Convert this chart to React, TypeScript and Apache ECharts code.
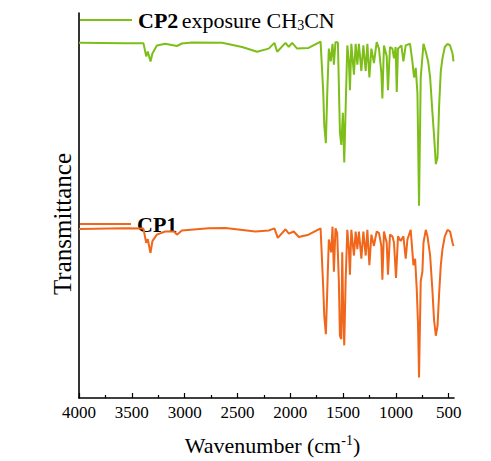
import React, { useEffect, useRef } from "react";
import * as echarts from "echarts";

// CP2 exposure CH3CN (offset spectrum, arbitrary transmittance units)
const cp2Wavenumbers = [4000, 3564, 3390, 3364, 3349, 3323, 3305, 3263, 3184, 3073, 3026, 2931, 2646, 2456, 2314, 2204, 2150, 2124, 2045, 2014, 1982, 1935, 1827, 1713, 1688, 1678, 1663, 1650, 1635, 1617, 1600, 1587, 1572, 1556, 1549, 1530, 1517, 1502, 1489, 1476, 1460, 1445, 1435, 1422, 1397, 1381, 1365, 1350, 1327, 1308, 1286, 1270, 1251, 1232, 1208, 1182, 1160, 1138, 1128, 1113, 1087, 1075, 1056, 1033, 1018, 1002, 992, 980, 948, 929, 907, 866, 844, 828, 812, 796, 781, 765, 739, 717, 695, 676, 654, 639, 622, 606, 591, 575, 559, 537, 511, 487, 464, 455];
const cp2Values = [369, 368.7, 368.7, 355, 360, 349.7, 358, 366.3, 368, 365.7, 368.3, 369.3, 369, 364.7, 359.7, 363, 369, 359.7, 369, 364.7, 369, 363, 363.7, 370.3, 318, 283, 264.7, 316.3, 363, 349.7, 368, 346.3, 369.7, 369.7, 369, 276.3, 263, 296.3, 244.7, 300, 366.3, 350, 319.7, 368, 336, 368, 346.3, 368, 339.7, 366.3, 339.7, 368, 333, 363, 348, 369.7, 363, 338, 311.3, 366.3, 355, 319.7, 364.7, 363, 353, 364.7, 318, 363, 366.3, 349.7, 366.3, 368, 349.7, 333, 343, 316.3, 199.7, 333, 368, 359.7, 349.7, 333, 296.3, 273, 243, 249.7, 303, 339.7, 353, 364.7, 368, 366.3, 358, 349.7];

// CP1
const cp1Wavenumbers = [4000, 3564, 3390, 3364, 3349, 3323, 3305, 3263, 3184, 3100, 3073, 3026, 2773, 2615, 2330, 2204, 2150, 2118, 2045, 2014, 1967, 1919, 1827, 1713, 1688, 1678, 1663, 1650, 1635, 1613, 1600, 1587, 1572, 1556, 1540, 1530, 1517, 1508, 1499, 1489, 1476, 1460, 1445, 1435, 1422, 1397, 1381, 1365, 1350, 1327, 1308, 1286, 1270, 1251, 1232, 1208, 1182, 1160, 1138, 1128, 1113, 1087, 1075, 1056, 1033, 1018, 999, 980, 955, 929, 907, 891, 860, 834, 818, 802, 790, 781, 765, 749, 739, 717, 701, 676, 654, 639, 622, 606, 591, 575, 559, 537, 511, 487, 464, 455];
const cp1Values = [175.7, 176.3, 176, 161.3, 165, 150.7, 163, 169.7, 173, 173, 169.7, 174, 176.3, 176.7, 173, 174, 176.3, 166.3, 175.3, 170.7, 173, 167.3, 169.7, 176.3, 114.7, 85, 66.3, 111.3, 164.7, 151.3, 178, 131.3, 176.3, 171.3, 121.3, 64.7, 61.3, 151.3, 91.3, 54.7, 121.3, 174.7, 154.7, 128, 174.7, 148, 173, 154.7, 173, 144.7, 173, 148, 174.7, 138, 169.7, 158, 173, 171.3, 158, 123, 173, 161.3, 128, 169.7, 168, 161.3, 124.7, 168, 163, 168, 144.7, 164.7, 174.7, 138, 144.7, 111.3, 74.7, 21.3, 121.3, 131.3, 161.3, 174.7, 168, 148, 111.3, 81.3, 64.7, 74.7, 108, 138, 154.7, 168, 174.7, 173, 161.3, 158];

const majorTicks = [4000, 3500, 3000, 2500, 2000, 1500, 1000, 500];
const minorTicks = [3750, 3250, 2750, 2250, 1750, 1250, 750];

const GREEN = "#7DBE18";
const ORANGE = "#F0661A";
const SERIF = '"Times New Roman", "Liberation Serif", serif';

export default function App() {
  const ref = useRef<HTMLDivElement>(null);
  useEffect(() => {
    if (!ref.current) return;
    const chart = echarts.init(ref.current, null, { renderer: "svg" });
    const cp2 = cp2Wavenumbers.map((w, i) => [w, cp2Values[i]]);
    const cp1 = cp1Wavenumbers.map((w, i) => [w, cp1Values[i]]);
    chart.setOption({
      animation: false,
      backgroundColor: "#ffffff",
      grid: { left: 79, right: 37, top: 13, bottom: 48, containLabel: false },
      xAxis: [
        {
          type: "value",
          min: 450,
          max: 4000,
          inverse: true,
          axisLine: { show: true, lineStyle: { color: "#000", width: 1.6 } },
          axisTick: { show: true, inside: true, length: 5, customValues: majorTicks, lineStyle: { color: "#000", width: 1.2 } },
          axisLabel: {
            show: true,
            customValues: majorTicks,
            margin: 6,
            fontFamily: SERIF,
            fontSize: 17,
            color: "#000",
            formatter: (v: number) => String(v),
          },
          splitLine: { show: false },
          name: "{a|Wavenumber (cm}{sup|-1}{a|)}",
          nameLocation: "middle",
          nameGap: 35,
          nameTextStyle: {
            padding: [0, 0, 0, 12],
            rich: {
              a: { fontFamily: SERIF, fontSize: 22, color: "#000" },
              sup: { fontFamily: SERIF, fontSize: 14, color: "#000", padding: [0, 0, 10, 0] },
            },
          },
        },
        {
          type: "value",
          min: 450,
          max: 4000,
          inverse: true,
          position: "bottom",
          axisLine: { show: false },
          axisTick: { show: true, inside: true, length: 3, customValues: minorTicks, lineStyle: { color: "#000", width: 1.2 } },
          axisLabel: { show: false },
          splitLine: { show: false },
        },
      ],
      yAxis: {
        type: "value",
        min: 0,
        max: 400,
        axisLine: { show: true, lineStyle: { color: "#000", width: 1.6 } },
        axisTick: { show: false },
        axisLabel: { show: false },
        splitLine: { show: false },
      },
      graphic: [
        {
          type: "text",
          x: 62,
          y: 224,
          rotation: Math.PI / 2,
          style: {
            text: "Transmittance",
            align: "center",
            verticalAlign: "middle",
            fontFamily: SERIF,
            fontSize: 25,
            fill: "#000",
          },
        },
        { type: "line", shape: { x1: 80, y1: 20, x2: 132, y2: 20 }, style: { stroke: GREEN, lineWidth: 2 } },
        {
          type: "text",
          x: 138,
          y: 20,
          style: {
            text: "{b|CP2} {a|exposure CH}{sub|3}{a|CN}",
            verticalAlign: "middle",
            rich: {
              b: { fontFamily: SERIF, fontSize: 22, fontWeight: "bold", fill: "#000" },
              a: { fontFamily: SERIF, fontSize: 22, fill: "#000" },
              sub: { fontFamily: SERIF, fontSize: 14, fill: "#000", padding: [10, 0, 0, 0] },
            },
          },
        },
        { type: "line", shape: { x1: 80, y1: 224, x2: 131, y2: 224 }, style: { stroke: ORANGE, lineWidth: 2 } },
        {
          type: "text",
          x: 137,
          y: 224,
          style: {
            text: "CP1",
            verticalAlign: "middle",
            fontFamily: SERIF,
            fontSize: 22,
            fontWeight: "bold",
            fill: "#000",
          },
        },
      ],
      series: [
        {
          name: "CP2 exposure CH3CN",
          type: "line",
          data: cp2,
          showSymbol: false,
          lineStyle: { color: GREEN, width: 2 },
          itemStyle: { color: GREEN },
        },
        {
          name: "CP1",
          type: "line",
          data: cp1,
          showSymbol: false,
          lineStyle: { color: ORANGE, width: 2 },
          itemStyle: { color: ORANGE },
        },
      ],
    });
    return () => chart.dispose();
  }, []);
  return (
    <div
      ref={ref}
      style={{ position: "fixed", left: 0, top: 0, width: 491, height: 461 }}
    />
  );
}
